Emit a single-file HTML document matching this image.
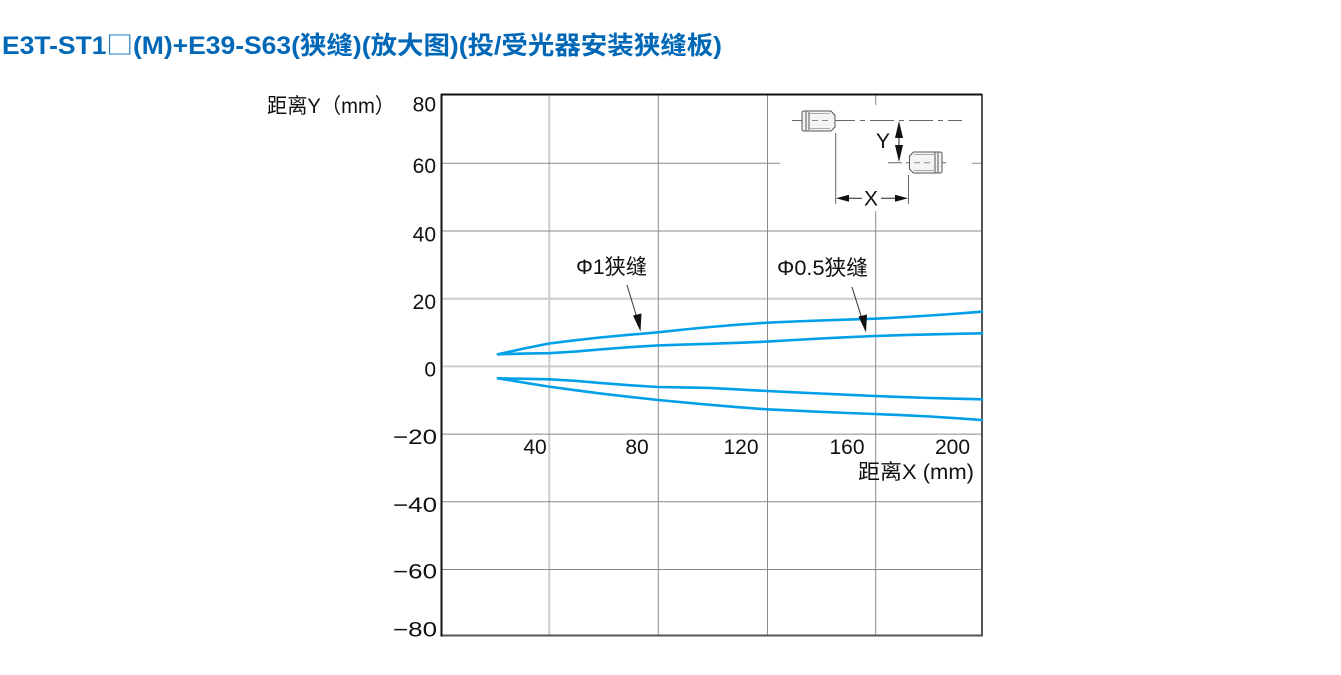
<!DOCTYPE html>
<html>
<head>
<meta charset="utf-8">
<style>
  html,body{margin:0;padding:0;background:#fff;}
  svg{display:block;}
  text{font-family:"Liberation Sans","Noto Sans CJK SC",sans-serif;}
</style>
</head>
<body>
<svg width="1341" height="675" viewBox="0 0 1341 675" xmlns="http://www.w3.org/2000/svg">
  <rect x="0" y="0" width="1341" height="675" fill="#fff"/>

  <!-- Title -->
  <text x="2" y="54" font-size="25" font-weight="bold" fill="#0068b7" textLength="720" lengthAdjust="spacingAndGlyphs">E3T-ST1<tspan font-family="Noto Sans CJK SC, sans-serif" font-weight="normal">□</tspan>(M)+E39-S63(狭缝)(放大图)(投/受光器安装狭缝板)</text>

  <!-- Grid: light thick -->
  <g stroke="#cccccc" stroke-width="2" fill="none">
    <line x1="549.3" y1="95" x2="549.3" y2="635"/>
    <line x1="441" y1="298.7" x2="982" y2="298.7"/>
    <line x1="441" y1="366.4" x2="982" y2="366.4"/>
  </g>
  <!-- Grid: dark thin -->
  <g stroke="#8a8a8a" stroke-width="1" fill="none">
    <line x1="658.3" y1="95" x2="658.3" y2="635"/>
    <line x1="767.5" y1="95" x2="767.5" y2="635"/>
    <line x1="875.7" y1="95" x2="875.7" y2="635"/>
    <line x1="441" y1="163.3" x2="982" y2="163.3"/>
    <line x1="441" y1="231" x2="982" y2="231"/>
    <line x1="441" y1="434.1" x2="982" y2="434.1"/>
    <line x1="441" y1="501.8" x2="982" y2="501.8"/>
    <line x1="441" y1="569.5" x2="982" y2="569.5"/>
  </g>

  <!-- Inset white box -->
  <rect x="780" y="105" width="192" height="106" fill="#fff"/>

  <!-- Frame -->
  <line x1="441" y1="635.5" x2="982" y2="635.5" stroke="#555" stroke-width="2"/>
  <line x1="982" y1="94" x2="982" y2="636.5" stroke="#555" stroke-width="2"/>
  <line x1="441" y1="94.5" x2="982" y2="94.5" stroke="#111" stroke-width="2"/>
  <line x1="441.5" y1="94" x2="441.5" y2="636.5" stroke="#111" stroke-width="2"/>

  <!-- Inset drawing -->
  <g stroke="#666" stroke-width="1" fill="none">
    <line x1="792" y1="120.5" x2="962" y2="120.5" stroke-dasharray="24 5 5 5"/>
    <line x1="888" y1="162.7" x2="946" y2="162.7" stroke-dasharray="14 4 5 4"/>
    <line x1="835.7" y1="133" x2="835.7" y2="204"/>
    <line x1="908.5" y1="175" x2="908.5" y2="204"/>
  </g>
  <!-- emitter 1 -->
  <g stroke="#555" stroke-width="1">
    <path d="M804,111 L831,111 L835,115.5 L835,127 L831,131 L804,131 Q802,131 802,129 L802,113 Q802,111 804,111 Z" fill="#f4f4f4"/>
    <line x1="806" y1="111" x2="806" y2="131"/>
    <line x1="809" y1="112" x2="809" y2="130"/>
    <line x1="809" y1="113.5" x2="830" y2="113.5" stroke="#aaa"/>
    <line x1="809" y1="128.5" x2="830" y2="128.5" stroke="#aaa"/>
  </g>
  <line x1="812" y1="120.5" x2="832" y2="120.5" stroke="#888" stroke-width="1" stroke-dasharray="6 4"/>
  <!-- emitter 2 -->
  <g stroke="#555" stroke-width="1">
    <path d="M913.5,152 L940,152 Q942,152 942,154 L942,171 Q942,173 940,173 L913.5,173 L909.5,169 L909.5,156 Z" fill="#f4f4f4"/>
    <line x1="935" y1="152" x2="935" y2="173"/>
    <line x1="938" y1="152" x2="938" y2="173"/>
    <line x1="914" y1="154.5" x2="935" y2="154.5" stroke="#aaa"/>
    <line x1="914" y1="170.5" x2="935" y2="170.5" stroke="#aaa"/>
  </g>
  <line x1="914" y1="162.7" x2="934" y2="162.7" stroke="#888" stroke-width="1" stroke-dasharray="6 4"/>

  <!-- Y dimension -->
  <line x1="899" y1="136" x2="899" y2="147" stroke="#222" stroke-width="1"/>
  <polygon points="899,121 895,138 903,138" fill="#111"/>
  <polygon points="899,162 895,145 903,145" fill="#111"/>
  <text x="883" y="148" font-size="21" fill="#111" text-anchor="middle">Y</text>
  <!-- X dimension -->
  <line x1="845" y1="198.3" x2="862" y2="198.3" stroke="#222" stroke-width="1"/>
  <line x1="881" y1="198.3" x2="898" y2="198.3" stroke="#222" stroke-width="1"/>
  <polygon points="836,198.3 849,194.8 849,201.8" fill="#111"/>
  <polygon points="908,198.3 895,194.8 895,201.8" fill="#111"/>
  <text x="871" y="205.5" font-size="21" fill="#111" text-anchor="middle">X</text>

  <!-- Curves -->
  <g stroke="#00a0e9" stroke-width="2.6" fill="none" stroke-linejoin="round" stroke-linecap="round">
    <polyline points="498,354.3 524,348.5 549,343.5 575,340.3 600,337.5 629,334.8 658,332.3 684,329.5 710,327 738,324.7 767,322.7 794,321.5 820,320.5 848,319.6 875,318.7 903,317.2 930,315.5 956,313.7 982,311.7"/>
    <polyline points="498,354.3 524,353.6 549,353.2 575,351.6 600,349.4 629,347.2 658,345.4 684,344.6 710,343.8 738,342.8 767,341.6 794,340 820,338.6 848,337.2 875,336 903,335.1 930,334.4 956,333.8 982,333.3"/>
    <polyline points="498,378.3 524,378.8 549,379.3 575,380.8 600,382.9 629,385.2 658,387 684,387.4 710,387.9 738,389.4 767,391 794,392.3 820,393.5 848,394.8 875,396 903,397.1 930,398 956,398.7 982,399.3"/>
    <polyline points="498,378.3 524,382.6 549,386.6 575,390.2 600,393.4 629,396.8 658,400 684,402.4 710,404.8 738,407.2 767,409.3 794,410.6 820,411.8 848,413 875,414 903,415.2 930,416.5 956,418.2 982,420"/>
  </g>

  <!-- Annotations -->
  <text x="576" y="274" font-size="21" fill="#111" textLength="71" lengthAdjust="spacingAndGlyphs">Φ1狭缝</text>
  <line x1="627" y1="285" x2="637" y2="318" stroke="#333" stroke-width="1"/>
  <polygon points="640.5,331.5 633,315.5 641.5,313.5" fill="#111"/>
  <text x="777" y="275" font-size="21" fill="#111" textLength="91" lengthAdjust="spacingAndGlyphs">Φ0.5狭缝</text>
  <line x1="852" y1="287" x2="862" y2="319" stroke="#333" stroke-width="1"/>
  <polygon points="866,332.5 858.5,316.5 867,314.5" fill="#111"/>

  <!-- Y axis title -->
  <text x="267" y="113" font-size="21" fill="#111" textLength="128" lengthAdjust="spacingAndGlyphs">距离Y（mm）</text>

  <!-- Y tick labels -->
  <g font-size="21" fill="#111" text-anchor="end">
    <text x="436" y="111.5">80</text>
    <text x="436" y="173">60</text>
    <text x="436" y="241.5">40</text>
    <text x="436" y="309">20</text>
    <text x="436" y="376.5">0</text>
    <text x="437" y="444" textLength="44" lengthAdjust="spacingAndGlyphs">−20</text>
    <text x="437" y="512" textLength="44" lengthAdjust="spacingAndGlyphs">−40</text>
    <text x="437" y="578.5" textLength="44" lengthAdjust="spacingAndGlyphs">−60</text>
    <text x="437" y="636.5" textLength="44" lengthAdjust="spacingAndGlyphs">−80</text>
  </g>

  <!-- X tick labels -->
  <g font-size="21" fill="#111" text-anchor="middle">
    <text x="535" y="454">40</text>
    <text x="637" y="454">80</text>
    <text x="741" y="454">120</text>
    <text x="847" y="454">160</text>
    <text x="952.5" y="454">200</text>
  </g>

  <!-- X axis title -->
  <text x="858" y="479" font-size="21" fill="#111" textLength="116" lengthAdjust="spacingAndGlyphs">距离X (mm)</text>
</svg>
</body>
</html>
